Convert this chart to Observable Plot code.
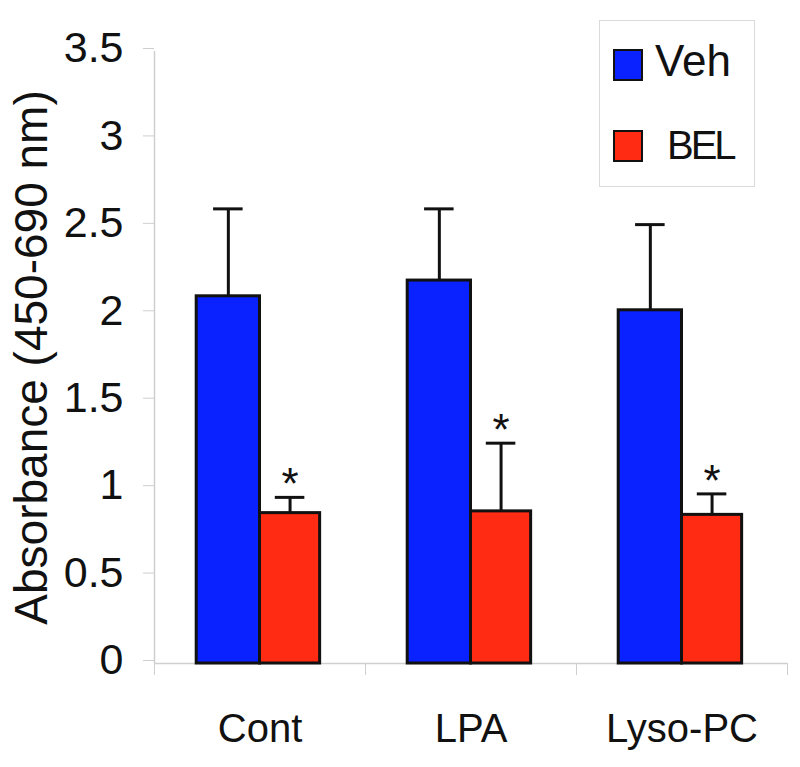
<!DOCTYPE html>
<html>
<head>
<meta charset="utf-8">
<script src="https://cdn.jsdelivr.net/npm/d3@7"></script>
<script src="https://cdn.jsdelivr.net/npm/@observablehq/plot@0.6"></script>
<style>
  body { margin: 0; background: #fff; font-family: "Liberation Sans", Arial, sans-serif; }
  #wrap { position: relative; width: 800px; height: 767px; }
  #legend { position: absolute; left: 599px; top: 20px; width: 154px; height: 165px;
    border: 1px solid #dadada; background: #fff; box-sizing: content-box; }
  .sw { position: absolute; width: 26px; height: 28px; border: 2.5px solid #111; }
  .lt { position: absolute; font-size: 44px; color: #111; line-height: 1; }
</style>
</head>
<body>
<div id="wrap"></div>
<script>
// ---- data ----
const categories = ["Cont", "LPA", "Lyso-PC"];
const groups = ["Veh", "BEL"];
const vehMean = [2.10, 2.19, 2.02];
const vehErr  = [0.50, 0.41, 0.49];
const belMean = [0.86, 0.87, 0.85];
const belErr  = [0.09, 0.39, 0.12];
const yTicks = [0, 0.5, 1, 1.5, 2, 2.5, 3, 3.5];
const yLabel = "Absorbance (450-690 nm)";
const significant = ["*", "*", "*"];

// ---- styling ----
const colors = ["#0a22ff", "#ff2b12"];
const axisGray = "#cfcfcf";
const font = "Liberation Sans, Arial, sans-serif";
// fractional layout of the two bars within each category slot
const slotStart = {Veh: 0.2, BEL: 0.5};
const slotEnd   = {Veh: 0.5, BEL: 0.785};
const capHalf = 0.07;

const rows = [];
categories.forEach((c, i) => {
  rows.push({category: c, i, group: "Veh", mean: vehMean[i], err: vehErr[i]});
  rows.push({category: c, i, group: "BEL", mean: belMean[i], err: belErr[i], star: significant[i]});
});
const barCenter = d => d.i + (slotStart[d.group] + slotEnd[d.group]) / 2;
const upper = d => d.mean + d.err;

const chart = Plot.plot({
  width: 800,
  height: 767,
  marginTop: 51,
  marginRight: 13,
  marginBottom: 104,
  marginLeft: 154,
  style: {fontFamily: font, background: "white", color: "#111"},
  x: {type: "linear", domain: [0, categories.length]},
  y: {domain: [0, 3.5]},
  color: {domain: groups, range: colors},
  marks: [
    Plot.ruleX([0], {y1: 0, y2: 3.5, stroke: axisGray, strokeWidth: 1.5}),
    Plot.ruleY([0], {x1: 0, x2: categories.length, stroke: axisGray, strokeWidth: 1.5}),
    Plot.axisY({ticks: yTicks, tickFormat: d => String(d), tickSize: 11, tickPadding: 20,
      fontSize: 43, stroke: axisGray, fill: "#111", label: null, dy: -3}),
    Plot.axisX({ticks: d3.range(categories.length + 1), tickFormat: () => "", tickSize: 12,
      stroke: axisGray, label: null}),
    Plot.axisX({ticks: categories.map((c, i) => i + 0.5), tickFormat: d => categories[Math.floor(d)],
      tickSize: 0, tickPadding: 50, fontSize: 40, fill: "#111", label: null}),
    Plot.text([yLabel], {frameAnchor: "left", text: d => d, rotate: -90, dx: -122,
      textAnchor: "middle", lineAnchor: "middle",
      fontSize: 46, fill: "#111", fontFamily: font}),
    Plot.rect(rows, {x1: d => d.i + slotStart[d.group], x2: d => d.i + slotEnd[d.group],
      y1: 0, y2: "mean", fill: "group", stroke: "#111", strokeWidth: 3}),
    Plot.ruleX(rows, {x: barCenter, y1: "mean", y2: upper, stroke: "#111", strokeWidth: 3}),
    Plot.ruleY(rows, {y: upper, x1: d => barCenter(d) - capHalf, x2: d => barCenter(d) + capHalf,
      stroke: "#111", strokeWidth: 3}),
    Plot.text(rows.filter(d => d.star), {x: barCenter, y: upper, text: "star", lineAnchor: "bottom",
      dy: 2, fontSize: 44, fill: "#111", fontFamily: font})
  ]
});
const wrap = document.getElementById("wrap");
wrap.appendChild(chart);

// legend
const legend = document.createElement("div");
legend.id = "legend";
groups.forEach((g, k) => {
  const sw = document.createElement("div");
  sw.className = "sw";
  sw.style.background = colors[k];
  sw.style.left = "13px";
  sw.style.top = (k === 0 ? 28 : 109) + "px";
  legend.appendChild(sw);
  const t = document.createElement("div");
  t.className = "lt";
  t.textContent = g;
  t.style.left = (k === 0 ? 55 : 67) + "px";
  t.style.top = (k === 0 ? 18 : 104) + "px";
  if (k === 1) { t.style.fontSize = "40px"; t.style.letterSpacing = "-3px"; }
  legend.appendChild(t);
});
wrap.appendChild(legend);
</script>
</body>
</html>
